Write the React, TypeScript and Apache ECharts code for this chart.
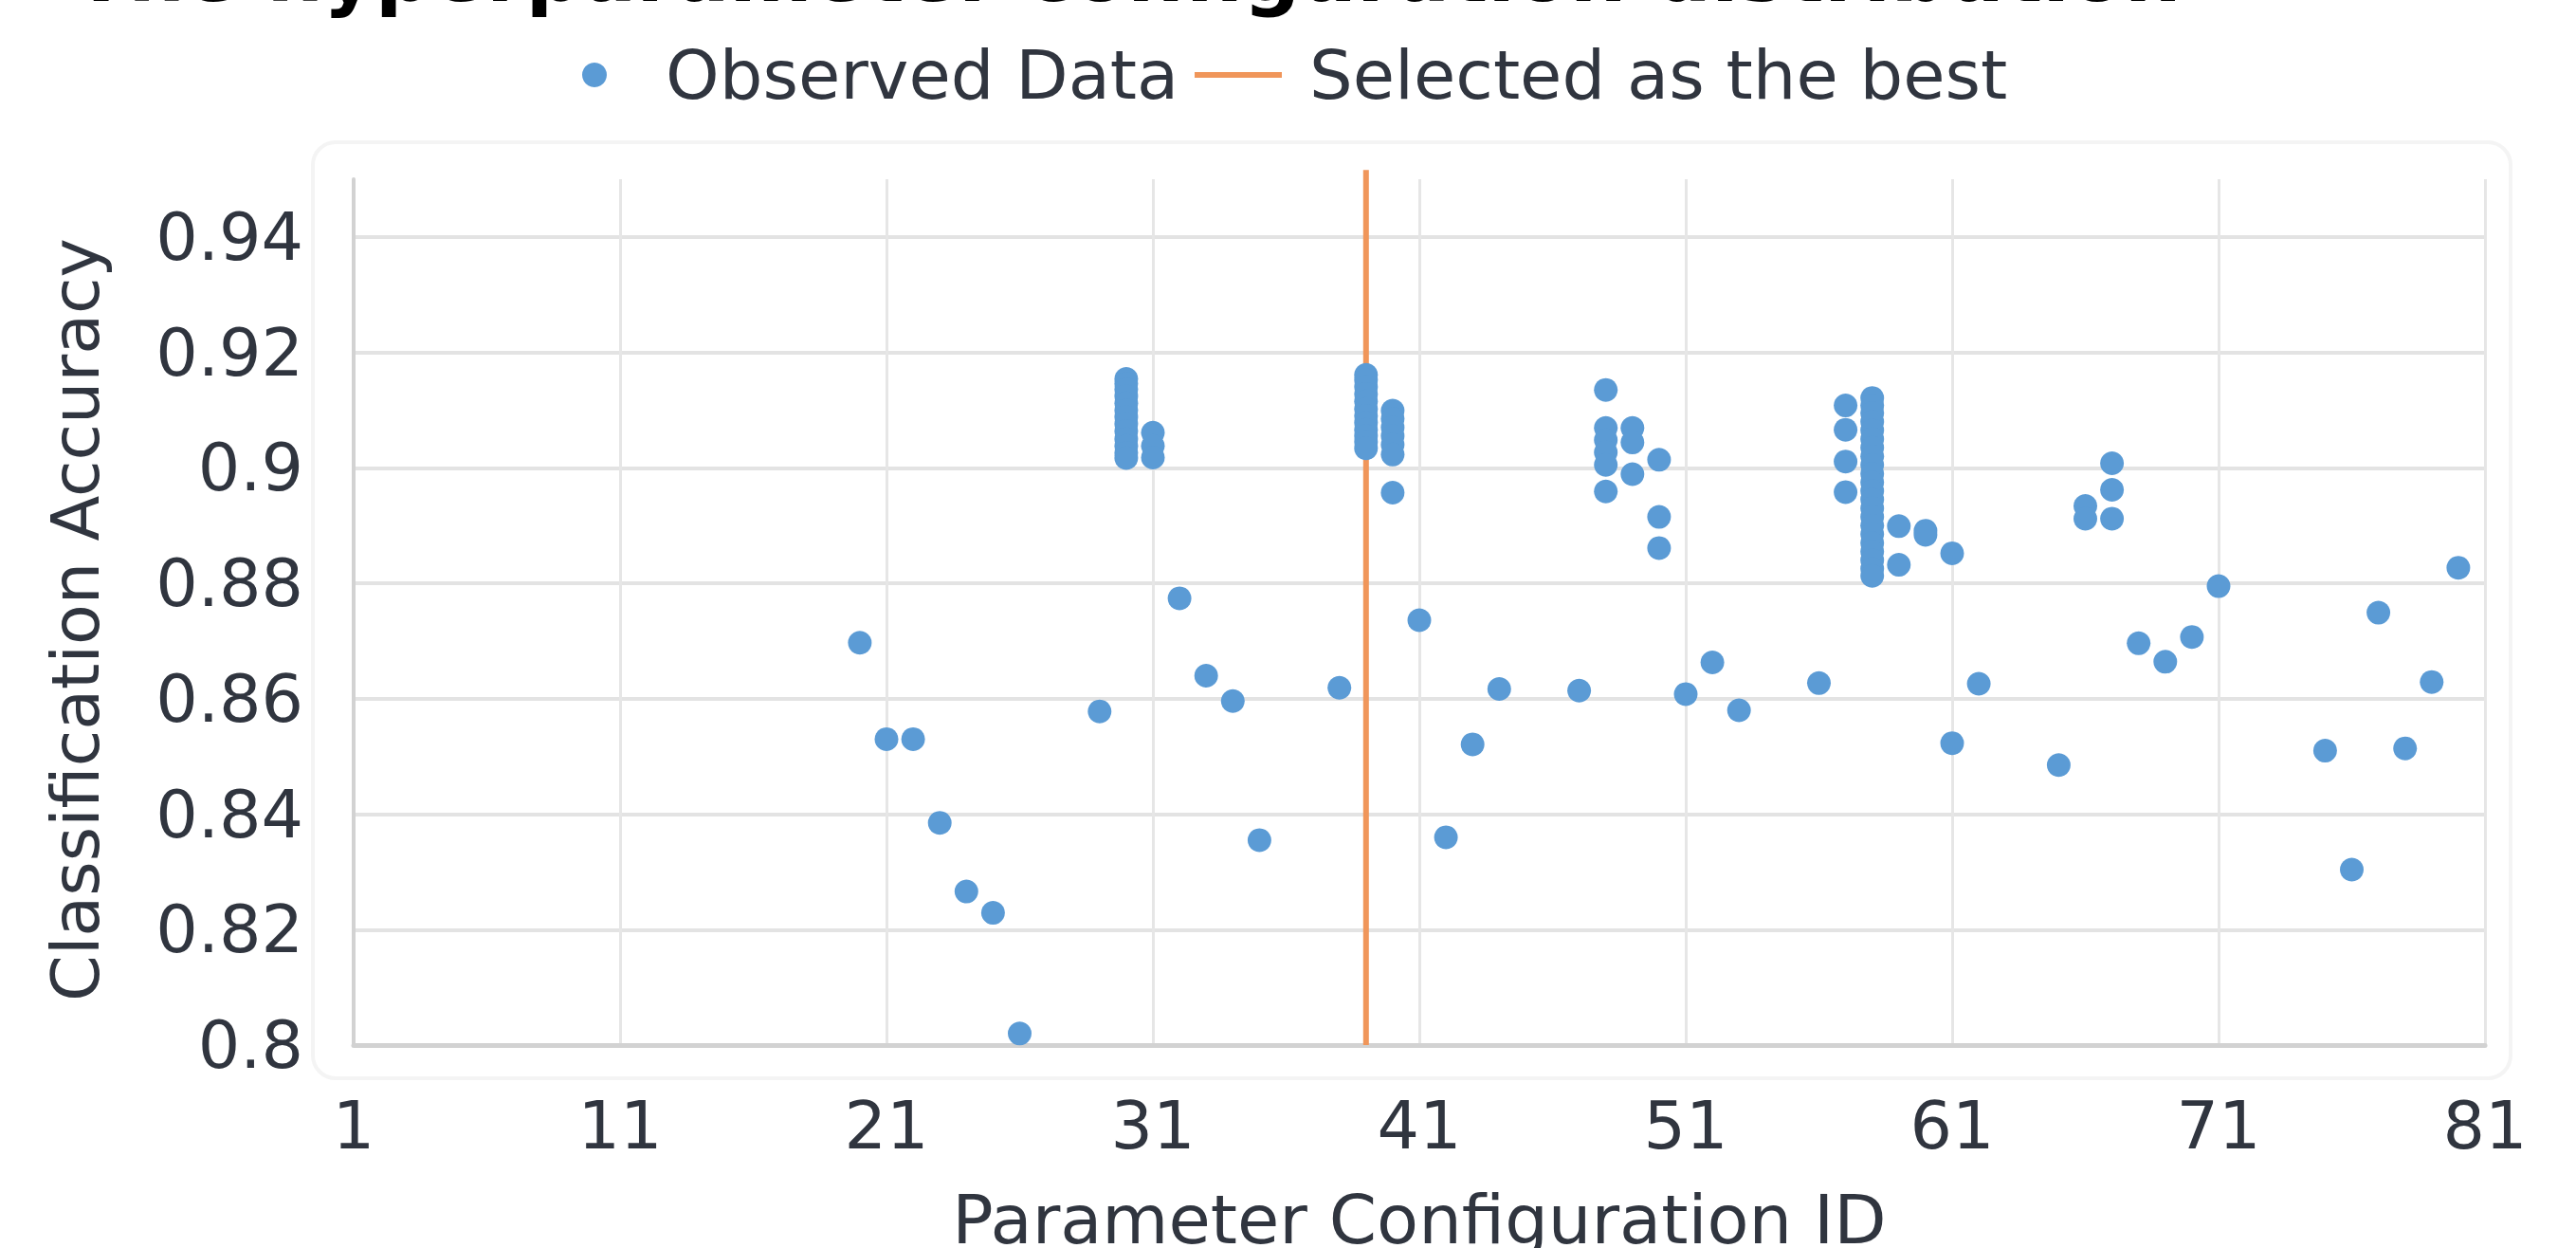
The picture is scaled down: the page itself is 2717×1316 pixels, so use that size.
import React, { useEffect, useRef } from 'react';
import * as echarts from 'echarts';

// Category axis: parameter configuration IDs 1..81
const configIds: string[] = Array.from({ length: 81 }, (_, i) => String(i + 1));

// Y axis range / ticks
const accuracyMin = 0.8;
const accuracyMax = 0.95;
const accuracyStep = 0.02;

// Isolated observations [configuration id, accuracy]
const scatteredRuns: [number, number][] = [
  [20, 0.8697], [21, 0.8530], [22, 0.8530], [23, 0.8385], [24, 0.8266], [25, 0.8229],
  [26, 0.8020], [29, 0.8578], [32, 0.8774], [33, 0.8640], [34, 0.8596], [35, 0.8355],
  [38, 0.8619], [41, 0.8736], [42, 0.8360], [43, 0.8521], [44, 0.8617], [47, 0.8614],
  [51, 0.8608], [52, 0.8663], [53, 0.8580], [56, 0.8627], [61, 0.8523], [62, 0.8626],
  [65, 0.8485], [68, 0.8696], [69, 0.8664], [70, 0.8707], [71, 0.8795], [75, 0.8510],
  [76, 0.8304], [77, 0.8749], [78, 0.8514], [79, 0.8629], [80, 0.8827],
];

// Dense groups of observations
const cluster30: [number, number][] = [
  [30, 0.9154], [30, 0.9146], [30, 0.9136], [30, 0.9124], [30, 0.9112], [30, 0.9100],
  [30, 0.9088], [30, 0.9076], [30, 0.9064], [30, 0.9050], [30, 0.9038], [30, 0.9026], [30, 0.9017],
  [31, 0.9061], [31, 0.9038], [31, 0.9018],
];
const cluster39: [number, number][] = [
  [39, 0.9161], [39, 0.9152], [39, 0.9140], [39, 0.9128], [39, 0.9115], [39, 0.9102],
  [39, 0.9090], [39, 0.9078], [39, 0.9066], [39, 0.9055], [39, 0.9045], [39, 0.9034],
  [40, 0.9099], [40, 0.9085], [40, 0.9070], [40, 0.9055], [40, 0.9040], [40, 0.9023], [40, 0.8957],
];
const cluster48: [number, number][] = [
  [48, 0.9135], [48, 0.9069], [48, 0.9048], [48, 0.9027], [48, 0.9005], [48, 0.8959],
  [49, 0.9069], [49, 0.9044], [49, 0.8989],
  [50, 0.9014], [50, 0.8915], [50, 0.8861],
];
const cluster58: [number, number][] = [
  [57, 0.9108], [57, 0.9066], [57, 0.9011], [57, 0.8958],
  [58, 0.9121], [58, 0.9108], [58, 0.9095], [58, 0.9080], [58, 0.9065], [58, 0.9050],
  [58, 0.9035], [58, 0.9020], [58, 0.9005], [58, 0.8990], [58, 0.8975], [58, 0.8960],
  [58, 0.8945], [58, 0.8930], [58, 0.8915], [58, 0.8900], [58, 0.8885], [58, 0.8870],
  [58, 0.8855], [58, 0.8840], [58, 0.8825], [58, 0.8813],
  [59, 0.8899], [59, 0.8832], [60, 0.8891], [60, 0.8884], [61, 0.8852],
];
const cluster66: [number, number][] = [
  [66, 0.8934], [66, 0.8912], [67, 0.9008], [67, 0.8962], [67, 0.8912],
];

// Selected best configuration and the span of its marker line
const bestConfigId = 39;
const bestLineSpan: number[] = [0.8, 0.9516];

const BLUE = '#5b9bd5';
const ORANGE = '#f0965a';
const TEXT = '#30353f';
const FONT = 'DejaVu Sans';

export default function App() {
  const ref = useRef<HTMLDivElement>(null);

  useEffect(() => {
    const chart = echarts.init(ref.current as HTMLDivElement, null, { renderer: 'svg' });
    const observed = [
      ...scatteredRuns, ...cluster30, ...cluster39, ...cluster48, ...cluster58, ...cluster66,
    ].map(([id, acc]) => [String(id), acc]);

    chart.setOption({
      animation: false,
      backgroundColor: '#ffffff',
      textStyle: { fontFamily: FONT },
      title: {
        text: 'The hyperparameter configuration distribution',
        left: 78,
        top: -70,
        padding: 0,
        textStyle: { fontFamily: FONT, fontWeight: 'bold', fontSize: 84, color: '#000000' },
      },
      graphic: [
        {
          type: 'rect',
          silent: true,
          z: -10,
          shape: { x: 330, y: 150, width: 2318, height: 987, r: 24 },
          style: { fill: 'none', stroke: '#f4f4f4', lineWidth: 4 },
        },
      ],
      legend: [
        {
          data: [{ name: 'Observed Data', icon: 'circle', itemStyle: { color: BLUE } }],
          left: 614,
          top: 43,
          padding: 0,
          itemWidth: 92,
          itemHeight: 26,
          selectedMode: false,
          textStyle: { fontFamily: FONT, fontSize: 72, color: TEXT, padding: [0, 0, 0, 24] },
        },
        {
          data: [{ name: 'Selected as the best', icon: 'rect', itemStyle: { color: ORANGE } }],
          left: 1260,
          top: 43,
          padding: 0,
          itemWidth: 92,
          itemHeight: 6,
          selectedMode: false,
          textStyle: { fontFamily: FONT, fontSize: 72, color: TEXT, padding: [0, 0, 0, 24] },
        },
      ],
      grid: {
        left: 373,
        right: 96,
        top: 189,
        bottom: 214,
        containLabel: false,
        outerBoundsMode: 'none',
      },
      xAxis: {
        type: 'category',
        data: configIds,
        boundaryGap: false,
        name: 'Parameter Configuration ID',
        nameLocation: 'middle',
        nameGap: 148,
        nameTextStyle: { fontFamily: FONT, fontSize: 72, color: TEXT },
        axisLine: { show: true, lineStyle: { color: '#d2d2d2', width: 5 } },
        axisTick: { show: false },
        axisLabel: { interval: 9, margin: 50, fontFamily: FONT, fontSize: 70, color: TEXT },
        splitLine: { show: true, interval: 9, lineStyle: { color: '#e6e6e6', width: 3 } },
      },
      yAxis: {
        type: 'value',
        min: accuracyMin,
        max: accuracyMax,
        interval: accuracyStep,
        name: 'Classification Accuracy',
        nameLocation: 'middle',
        nameGap: 258,
        nameTextStyle: { fontFamily: FONT, fontSize: 70, color: TEXT, padding: [0, 16, 0, 0] },
        axisLine: { show: true, lineStyle: { color: '#d2d2d2', width: 4 } },
        axisTick: { show: false },
        axisLabel: { margin: 53, fontFamily: FONT, fontSize: 70, color: TEXT, showMaxLabel: false },
        splitLine: { show: true, showMaxLine: false, lineStyle: { color: '#e3e3e3', width: 4 } },
      },
      series: [
        {
          name: 'Selected as the best',
          type: 'line',
          data: bestLineSpan.map((v) => [String(bestConfigId), v]),
          symbol: 'none',
          clip: false,
          z: 1,
          lineStyle: { color: ORANGE, width: 6 },
          itemStyle: { color: ORANGE },
        },
        {
          name: 'Observed Data',
          type: 'scatter',
          data: observed,
          symbol: 'circle',
          symbolSize: 25,
          z: 3,
          itemStyle: { color: BLUE, opacity: 1 },
        },
      ],
    });

    return () => chart.dispose();
  }, []);

  return (
    <div
      ref={ref}
      style={{ position: 'fixed', left: 0, top: 0, width: 2717, height: 1316, background: '#fff' }}
    />
  );
}
